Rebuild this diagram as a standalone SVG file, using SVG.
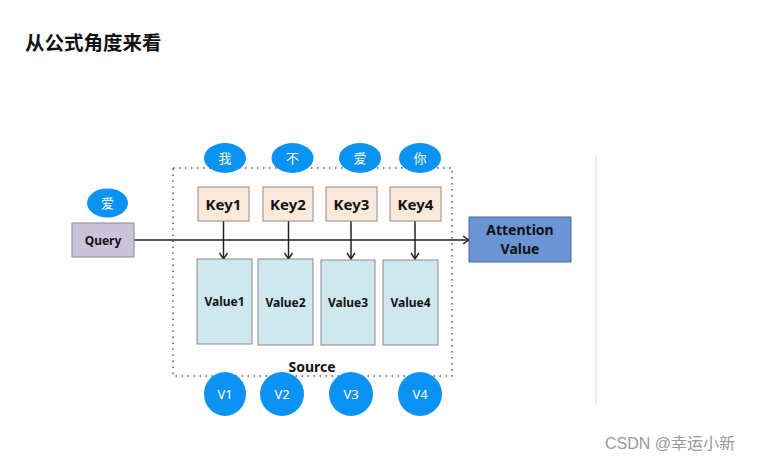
<svg xmlns="http://www.w3.org/2000/svg" width="757" height="460" viewBox="0 0 757 460">
<style>
text{font-family:"Noto Sans","Noto Sans CJK SC",sans-serif;}
.c{fill:#0b93f4;}
.ct{fill:#fff;font-size:13px;text-anchor:middle;dominant-baseline:central;}
.key{fill:#fbeadb;stroke:#8a8a8a;stroke-width:1;}
.val{fill:#cfe7ee;stroke:#8a8a8a;stroke-width:1;}
.kt{font-size:15px;font-weight:bold;fill:#111;text-anchor:middle;dominant-baseline:central;}
.vt{font-size:12px;font-weight:bold;fill:#111;text-anchor:middle;dominant-baseline:central;}
.ln{stroke:#222;stroke-width:1.5;fill:none;}
</style>
<defs>
<marker id="ah" markerWidth="10" markerHeight="10" refX="8" refY="5" orient="auto" markerUnits="userSpaceOnUse">
<path d="M2,1 L8,5 L2,9" fill="none" stroke="#222" stroke-width="1.5"/>
</marker>
</defs>
<rect width="757" height="460" fill="#fff"/>
<text x="25" y="50" font-size="19.5" font-weight="bold" fill="#111" style="font-family:'Noto Sans CJK SC',sans-serif">从公式角度来看</text>
<line x1="596" y1="155" x2="596" y2="405" stroke="#eeeeee" stroke-width="2"/>
<g id="source">
<rect x="173" y="168" width="279" height="208" fill="none" stroke="#555" stroke-width="1.5" stroke-dasharray="1.5 4.5"/>
<text x="312" y="366" font-size="14" font-weight="bold" fill="#111" text-anchor="middle" dominant-baseline="central">Source</text>
</g>
<g id="connectors">
<line class="ln" x1="134" y1="240" x2="469" y2="240" marker-end="url(#ah)"/>
<line class="ln" x1="223.5" y1="221" x2="223.5" y2="259" marker-end="url(#ah)"/>
<line class="ln" x1="288.5" y1="221" x2="288.5" y2="259" marker-end="url(#ah)"/>
<line class="ln" x1="351" y1="221" x2="351" y2="259" marker-end="url(#ah)"/>
<line class="ln" x1="415" y1="221" x2="415" y2="259" marker-end="url(#ah)"/>
</g>
<g id="c-query"><ellipse class="c" cx="107.5" cy="203" rx="20.5" ry="14.5"/><text class="ct" x="107.5" y="203">爱</text></g>
<g id="c-wo"><ellipse class="c" cx="225" cy="158" rx="21" ry="15"/><text class="ct" x="225" y="158">我</text></g>
<g id="c-bu"><ellipse class="c" cx="292.5" cy="158" rx="21" ry="15"/><text class="ct" x="292.5" y="158">不</text></g>
<g id="c-ai"><ellipse class="c" cx="360" cy="158" rx="21" ry="15"/><text class="ct" x="360" y="158">爱</text></g>
<g id="c-ni"><ellipse class="c" cx="420" cy="158" rx="21" ry="15"/><text class="ct" x="420" y="158">你</text></g>
<g id="query"><rect x="72" y="223" width="62" height="34" fill="#ccc3da" stroke="#8a8a8a"/><text class="vt" x="103" y="240">Query</text></g>
<g id="key1"><rect class="key" x="198" y="187" width="51" height="34"/><text class="kt" x="223.5" y="204">Key1</text></g>
<g id="key2"><rect class="key" x="263" y="187" width="50" height="34"/><text class="kt" x="288" y="204">Key2</text></g>
<g id="key3"><rect class="key" x="326" y="187" width="51" height="34"/><text class="kt" x="351.5" y="204">Key3</text></g>
<g id="key4"><rect class="key" x="390" y="187" width="51" height="34"/><text class="kt" x="415.5" y="204">Key4</text></g>
<g id="value1"><rect class="val" x="197" y="259" width="55" height="85"/><text class="vt" x="224.5" y="301">Value1</text></g>
<g id="value2"><rect class="val" x="258" y="259" width="55" height="86"/><text class="vt" x="285.5" y="302">Value2</text></g>
<g id="value3"><rect class="val" x="321" y="260" width="54" height="85"/><text class="vt" x="348" y="302">Value3</text></g>
<g id="value4"><rect class="val" x="383" y="260" width="55" height="85"/><text class="vt" x="410.5" y="302">Value4</text></g>
<g id="attention"><rect x="469" y="217" width="102" height="45" fill="#6a94d3" stroke="#4d6b99"/><text x="520" y="229.5" font-size="14" font-weight="bold" fill="#111" text-anchor="middle" dominant-baseline="central">Attention</text><text x="520" y="248" font-size="14" font-weight="bold" fill="#111" text-anchor="middle" dominant-baseline="central">Value</text></g>
<g id="v1"><ellipse class="c" cx="225" cy="394" rx="21" ry="22"/><text class="ct" x="225" y="394">V1</text></g>
<g id="v2"><ellipse class="c" cx="282" cy="394" rx="22" ry="22"/><text class="ct" x="282" y="394">V2</text></g>
<g id="v3"><ellipse class="c" cx="351" cy="394" rx="22" ry="22"/><text class="ct" x="351" y="394">V3</text></g>
<g id="v4"><ellipse class="c" cx="420" cy="394" rx="22" ry="22"/><text class="ct" x="420" y="394">V4</text></g>
<text x="605" y="449" font-size="16" fill="#999" style="font-family:'Liberation Sans','Noto Sans CJK SC',sans-serif">CSDN @幸运小新</text>
</svg>
